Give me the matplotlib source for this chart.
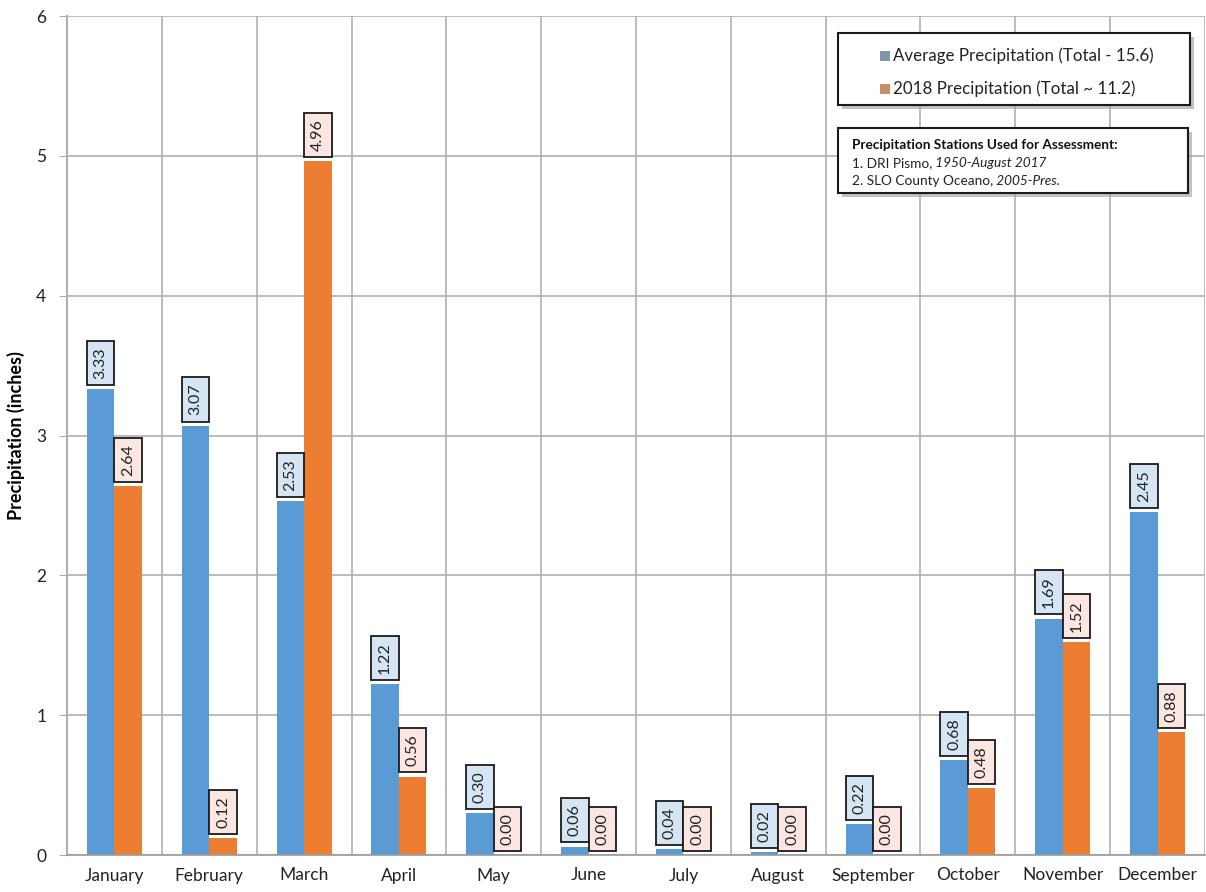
import numpy as np
import matplotlib.pyplot as plt
from matplotlib.patches import Rectangle
from matplotlib.text import Annotation

plt.rcParams['font.family'] = ['Lato', 'DejaVu Sans']

MONTHS = ["January", "February", "March", "April", "May", "June", "July",
          "August", "September", "October", "November", "December"]
AVG = [3.33, 3.07, 2.53, 1.22, 0.30, 0.06, 0.04, 0.02, 0.22, 0.68, 1.69, 2.45]
Y2018 = [2.64, 0.12, 4.96, 0.56, 0.00, 0.00, 0.00, 0.00, 0.00, 0.48, 1.52, 0.88]
LEGEND_LABELS = ["Average Precipitation (Total - 15.6)", "2018 Precipitation (Total ~ 11.2)"]

BLUE = "#5b9bd5"
ORANGE = "#ed7d31"
BLUE_BOX = "#d5e5f4"
ORANGE_BOX = "#fbe6e2"

fig = plt.figure(figsize=(12.06, 8.92), dpi=100)
ax = fig.add_axes([67 / 1206, 1 - 855 / 892, 1138 / 1206, (855 - 16) / 892])

x = np.arange(len(MONTHS))
w = 0.29
off = 0.145
ax.bar(x - off, AVG, w, color=BLUE, zorder=2)
ax.bar(x + off, Y2018, w, color=ORANGE, zorder=2)

# value label boxes
box_h = 0.315
gap = 0.03
for vals, sign, fc in [(AVG, -1, BLUE_BOX), (Y2018, 1, ORANGE_BOX)]:
    for xi, v in zip(x, vals):
        cx = xi + sign * off
        y0 = v + gap
        ax.add_patch(Rectangle((cx - w / 2, y0), w, box_h, facecolor=fc,
                               edgecolor="#1a1a1a", lw=1.3, zorder=3))
        ax.text(cx, y0 + box_h / 2, f"{v:.2f}", rotation=90, ha="center",
                va="center", fontsize=11.5, color="#222222", zorder=4)

ax.set_xlim(-0.5, len(MONTHS) - 0.5)
ax.set_ylim(0, 6)
ax.set_yticks(range(7))
ax.set_xticks(x)
ax.set_xticklabels(MONTHS, fontsize=12.5, color="#222222")
ax.tick_params(axis="y", labelsize=12.5, colors="#222222", length=6, color="#aaaaaa", pad=9)
ax.tick_params(axis="x", length=0, pad=9)

ax.set_xticks(np.arange(-0.5, len(MONTHS) + 0.5, 1), minor=True)
ax.grid(which="minor", axis="x", color="#b0b0b0", lw=1.2, zorder=0)
ax.grid(which="major", axis="y", color="#b0b0b0", lw=1.2, zorder=0)
ax.tick_params(axis="x", which="minor", length=0)
for s in ["top", "right"]:
    ax.spines[s].set_visible(False)
ax.spines["left"].set_color("#b0b0b0")
ax.spines["left"].set_linewidth(1.5)
ax.spines["bottom"].set_color("#999999")
ax.spines["bottom"].set_linewidth(1.2)

ax.set_ylabel("Precipitation (inches)", fontsize=13, fontweight="bold")
ax.yaxis.set_label_coords(-42 / 1138, 0.5)


def framed_box(x0, y0, x1, y1):
    # pixel coordinates (top-left origin) -> figure fraction, with drop shadow
    fx0, fx1 = x0 / 1206, x1 / 1206
    fy0, fy1 = 1 - y1 / 892, 1 - y0 / 892
    fig.patches.append(Rectangle((fx0 + 4 / 1206, fy0 - 4 / 892), fx1 - fx0, fy1 - fy0,
                                 transform=fig.transFigure, facecolor="#9a9a9a",
                                 edgecolor="none", alpha=0.6, zorder=5))
    fig.patches.append(Rectangle((fx0, fy0), fx1 - fx0, fy1 - fy0,
                                 transform=fig.transFigure, facecolor="white",
                                 edgecolor="#1a1a1a", lw=1.5, zorder=6))


framed_box(838, 33, 1190, 105)
for i, (lab, col) in enumerate(zip(LEGEND_LABELS, ["#7f96ad", "#c98e67"])):
    py = 56 + i * 33
    fig.patches.append(Rectangle((880 / 1206, 1 - (py + 5) / 892), 10 / 1206, 10 / 892,
                                 transform=fig.transFigure, facecolor=col,
                                 edgecolor="none", zorder=7))
    fig.text(893 / 1206, 1 - py / 892, lab, fontsize=12.2, color="#222222",
             va="center", ha="left", zorder=8)

framed_box(838, 128, 1188, 193)
fs = 9.8
fig.text(852 / 1206, 1 - 145 / 892, "Precipitation Stations Used for Assessment:",
         fontsize=fs, fontweight="bold", color="#111111", va="center", zorder=8)
station_lines = [("1. DRI Pismo,", " 1950-August 2017", 163),
                 ("2. SLO County Oceano,", " 2005-Pres.", 181)]
for plain, ital, py in station_lines:
    t = fig.text(852 / 1206, 1 - py / 892, plain, fontsize=fs, color="#222222",
                 va="center", zorder=8)
    a = Annotation(ital, xy=(1, 0.5), xycoords=t, fontsize=fs, style="italic",
                   color="#222222", va="center", ha="left", annotation_clip=False)
    a.set_zorder(8)
    fig.add_artist(a)

fig.savefig("out.png", dpi=100)
